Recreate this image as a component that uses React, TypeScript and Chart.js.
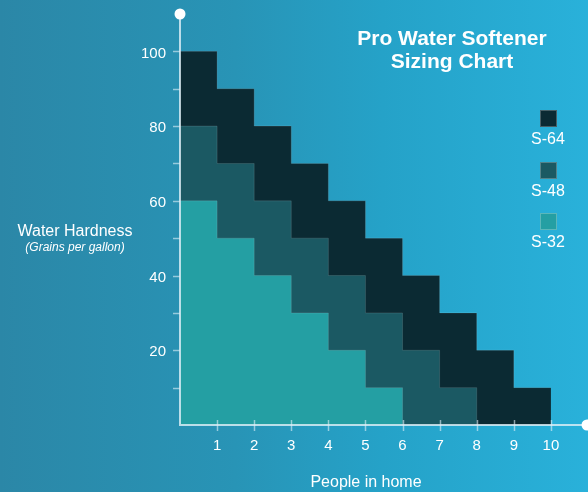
import React, { useEffect, useRef } from "react";
import { Chart, registerables } from "chart.js";

Chart.register(...registerables);

// People in home (each step spans n-1 .. n)
const people = [1, 2, 3, 4, 5, 6, 7, 8, 9, 10];
// Max water hardness (grains per gallon) served by each model
const s64 = [100, 90, 80, 70, 60, 50, 40, 30, 20, 10];
const s48 = [80, 70, 60, 50, 40, 30, 20, 10, 0, 0];
const s32 = [60, 50, 40, 30, 20, 10, 0, 0, 0, 0];
const seriesNames = ["S-64", "S-48", "S-32"];
const seriesColors = ["#0b2a33", "#1b5963", "#249fa3"];
const yTickLabels = [20, 40, 60, 80, 100];
const title = ["Pro Water Softener", "Sizing Chart"];

const FONT = "'Liberation Sans', Arial, Helvetica, sans-serif";

function stepData(vals: number[]) {
  return [{ x: 0, y: vals[0] }, ...people.map((p, i) => ({ x: p, y: vals[i] }))];
}

const axisPlugin = {
  id: "axisDecor",
  afterDatasetsDraw(chart: any) {
    const { ctx, scales } = chart;
    const xs = scales.x;
    const ys = scales.y;
    const x0 = xs.getPixelForValue(0);
    const y0 = ys.getPixelForValue(0);
    const yTop = ys.getPixelForValue(ys.max);
    const xRight = xs.getPixelForValue(xs.max);
    ctx.save();
    // tick marks
    ctx.strokeStyle = "rgba(225,240,248,0.6)";
    ctx.lineWidth = 1.5;
    for (let v = 10; v <= 100; v += 10) {
      const py = Math.round(ys.getPixelForValue(v)) + 0.5;
      ctx.beginPath();
      ctx.moveTo(x0 - 7, py);
      ctx.lineTo(x0, py);
      ctx.stroke();
    }
    people.forEach((p) => {
      const px = Math.round(xs.getPixelForValue(p)) + 0.5;
      ctx.beginPath();
      ctx.moveTo(px, y0 - 5);
      ctx.lineTo(px, y0 + 6);
      ctx.stroke();
    });
    // axes lines
    ctx.strokeStyle = "rgba(225,240,248,0.8)";
    ctx.lineWidth = 2;
    ctx.beginPath();
    ctx.moveTo(x0, yTop);
    ctx.lineTo(x0, y0);
    ctx.lineTo(xRight, y0);
    ctx.stroke();
    // end dots
    ctx.fillStyle = "#ffffff";
    ctx.beginPath();
    ctx.arc(x0, yTop, 5.5, 0, Math.PI * 2);
    ctx.fill();
    ctx.beginPath();
    ctx.arc(xRight - 1, y0, 5.5, 0, Math.PI * 2);
    ctx.fill();
    ctx.restore();
  },
};

function zeroPad(s: any) {
  s.paddingTop = 0;
  s.paddingBottom = 0;
  s.paddingLeft = 0;
  s.paddingRight = 0;
}

export default function App() {
  const ref = useRef<HTMLCanvasElement>(null);
  useEffect(() => {
    const series = [s64, s48, s32];
    const chart = new Chart(ref.current as HTMLCanvasElement, {
      type: "line",
      data: {
        datasets: series.map((vals, i) => ({
          label: seriesNames[i],
          data: stepData(vals),
          stepped: "after",
          fill: "origin",
          backgroundColor: seriesColors[i],
          borderColor: "rgba(255,255,255,0.12)",
          borderWidth: 1,
          pointRadius: 0,
          order: -i,
        })),
      } as any,
      options: {
        animation: false,
        responsive: false,
        maintainAspectRatio: false,
        layout: { padding: { top: 14, right: 0, left: 0, bottom: 0 } },
        plugins: { legend: { display: false }, tooltip: { enabled: false } },
        scales: {
          x: {
            type: "linear",
            min: 0,
            max: 11,
            border: { display: false },
            grid: { display: false, drawTicks: false },
            afterBuildTicks: (s: any) => {
              s.ticks = people.map((p) => ({ value: p }));
            },
            afterFit: (s: any) => {
              s.height = 67;
              zeroPad(s);
            },
            ticks: {
              color: "#ffffff",
              font: { family: FONT, size: 15 },
              padding: 12,
              maxRotation: 0,
              autoSkip: false,
            },
          },
          y: {
            type: "linear",
            min: 0,
            max: 110,
            border: { display: false },
            grid: { display: false, drawTicks: false },
            afterBuildTicks: (s: any) => {
              s.ticks = yTickLabels.map((v) => ({ value: v }));
            },
            afterFit: (s: any) => {
              s.width = 180;
              zeroPad(s);
            },
            ticks: {
              color: "#ffffff",
              font: { family: FONT, size: 15 },
              padding: 14,
              labelOffset: 2,
              autoSkip: false,
            },
          },
        },
      },
      plugins: [axisPlugin],
    } as any);
    return () => chart.destroy();
  }, []);

  const legendTops = [110, 162, 213];

  return (
    <div
      style={{
        position: "fixed",
        left: 0,
        top: 0,
        width: 588,
        height: 492,
        overflow: "hidden",
        background: "linear-gradient(to right, #2b87a7 0%, #2894b6 40%, #25a2c8 65%, #29b1da 100%)",
        fontFamily: FONT,
        color: "#ffffff",
      }}
    >
      <canvas ref={ref} width={588} height={492} style={{ position: "absolute", left: 0, top: 0, width: 588, height: 492 }} />
      <div
        style={{
          position: "absolute",
          left: 342,
          width: 220,
          top: 26,
          textAlign: "center",
          fontWeight: "bold",
          fontSize: 21,
          lineHeight: "23px",
        }}
      >
        {title.map((t) => (
          <div key={t}>{t}</div>
        ))}
      </div>
      {seriesNames.map((n, i) => (
        <div key={n} style={{ position: "absolute", left: 518, width: 60, top: legendTops[i], textAlign: "center" }}>
          <div
            style={{
              width: 15,
              height: 15,
              margin: "0 auto",
              background: seriesColors[i],
              border: "0.5px solid rgba(255,255,255,0.25)",
            }}
          />
          <div style={{ fontSize: 16, lineHeight: "18px", marginTop: 3 }}>{n}</div>
        </div>
      ))}
      <div style={{ position: "absolute", left: 0, width: 150, top: 221, textAlign: "center" }}>
        <div style={{ fontSize: 16, lineHeight: "19px" }}>Water Hardness</div>
        <div style={{ fontSize: 12, lineHeight: "15px", fontStyle: "italic" }}>(Grains per gallon)</div>
      </div>
      <div style={{ position: "absolute", left: 290, width: 152, top: 472, textAlign: "center", fontSize: 16, lineHeight: "19px" }}>
        People in home
      </div>
    </div>
  );
}
